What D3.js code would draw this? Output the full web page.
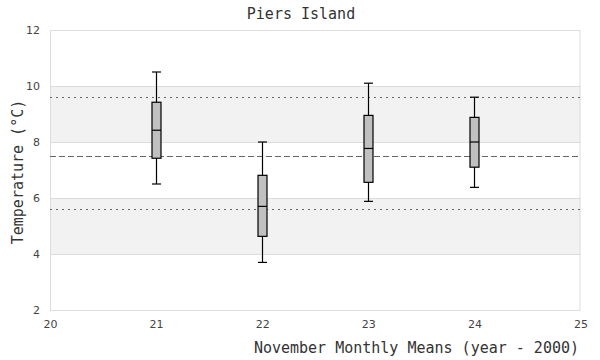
<!DOCTYPE html>
<html><head><meta charset="utf-8">
<script src="https://cdn.jsdelivr.net/npm/d3@7"></script>
<style>body{margin:0;background:#fff}</style>
</head><body>
<svg id="c" width="600" height="360"></svg>
<script>
const years = [21, 22, 23, 24];
const whiskerLow = [6.5, 3.7, 5.88, 6.38];
const q1 = [7.42, 4.63, 6.56, 7.10];
const median = [8.42, 5.70, 7.77, 8.0];
const q3 = [9.42, 6.81, 8.95, 8.88];
const whiskerHigh = [10.5, 8.0, 10.1, 9.6];
const meanLine = 7.5;
const sdLines = [5.6, 9.6];
const bands = [[4, 6], [8, 10]];
const yTicks = [2, 4, 6, 8, 10, 12];
const xTicks = [20, 21, 22, 23, 24, 25];
const title = "Piers Island";
const xTitle = "November Monthly Means (year - 2000)";
const yTitle = "Temperature (°C)";

const svg = d3.select("#c");
const L = 50, R = 580.5, T = 30, B = 310;
const x = d3.scaleLinear().domain([20, 25]).range([L, R]);
const y = d3.scaleLinear().domain([2, 12]).range([B, T]);

svg.append("g").selectAll("rect").data(bands).join("rect")
  .attr("x", L).attr("width", R - L)
  .attr("y", d => y(d[1])).attr("height", d => y(d[0]) - y(d[1]))
  .attr("fill", "#f2f2f2");

svg.append("g").selectAll("line").data(yTicks.slice(1, -1)).join("line")
  .attr("x1", L).attr("x2", R)
  .attr("y1", d => Math.round(y(d)) + 0.5).attr("y2", d => Math.round(y(d)) + 0.5)
  .attr("stroke", "#dddddd");

svg.append("rect").attr("x", L + 0.5).attr("y", T + 0.5)
  .attr("width", R - L - 1).attr("height", B - T)
  .attr("fill", "none").attr("stroke", "#dddddd");

svg.append("line").attr("x1", L).attr("x2", R)
  .attr("y1", Math.round(y(meanLine)) + 0.5).attr("y2", Math.round(y(meanLine)) + 0.5)
  .attr("stroke", "#666").attr("stroke-dasharray", "6,3");
svg.append("g").selectAll("line").data(sdLines).join("line")
  .attr("x1", L).attr("x2", R)
  .attr("y1", d => Math.round(y(d)) + 0.5).attr("y2", d => Math.round(y(d)) + 0.5)
  .attr("stroke", "#666").attr("stroke-dasharray", "2,4");

// y axis
const ya = svg.append("g").attr("transform", `translate(${L},0)`)
  .call(d3.axisLeft(y).tickValues(yTicks).tickFormat(d3.format("d")).tickSize(0).tickPadding(10));
ya.select(".domain").remove();
ya.selectAll("text").attr("font-family", "DejaVu Sans, sans-serif").attr("font-size", 11).attr("fill", "#444");

const xa = svg.append("g").attr("transform", `translate(0,${B})`)
  .call(d3.axisBottom(x).tickValues(xTicks).tickFormat(d3.format("d")).tickSize(0).tickPadding(10));
xa.select(".domain").remove();
xa.selectAll("text").attr("font-family", "DejaVu Sans, sans-serif").attr("font-size", 11).attr("fill", "#444");

// boxes
const bw = 9;
const g = svg.append("g");
years.forEach((yr, i) => {
  const cx = Math.round(x(yr)) + 0.5;
  g.append("line").attr("x1", cx).attr("x2", cx)
    .attr("y1", y(whiskerHigh[i])).attr("y2", y(whiskerLow[i]))
    .attr("stroke", "#000").attr("stroke-width", 1.2);
  [whiskerHigh[i], whiskerLow[i]].forEach(v => {
    g.append("line").attr("x1", cx - bw / 2).attr("x2", cx + bw / 2)
      .attr("y1", y(v)).attr("y2", y(v)).attr("stroke", "#000").attr("stroke-width", 1.2);
  });
  g.append("rect").attr("x", cx - bw / 2).attr("width", bw)
    .attr("y", y(q3[i])).attr("height", y(q1[i]) - y(q3[i]))
    .attr("fill", "#c0c0c0").attr("stroke", "#000").attr("stroke-width", 1.2);
  g.append("line").attr("x1", cx - bw / 2).attr("x2", cx + bw / 2)
    .attr("y1", y(median[i])).attr("y2", y(median[i])).attr("stroke", "#000").attr("stroke-width", 1.2);
});

svg.append("text").attr("x", 301).attr("y", 19).attr("text-anchor", "middle")
  .attr("font-family", "DejaVu Sans Mono, monospace").attr("font-size", 15).attr("fill", "#333").text(title);
svg.append("text").attr("x", 579).attr("y", 353).attr("text-anchor", "end")
  .attr("font-family", "DejaVu Sans Mono, monospace").attr("font-size", 15).attr("fill", "#333").text(xTitle);
svg.append("text").attr("transform", "translate(23,172) rotate(-90)").attr("text-anchor", "middle")
  .attr("font-family", "DejaVu Sans Mono, monospace").attr("font-size", 15).attr("fill", "#333").text(yTitle);
</script>
</body></html>
